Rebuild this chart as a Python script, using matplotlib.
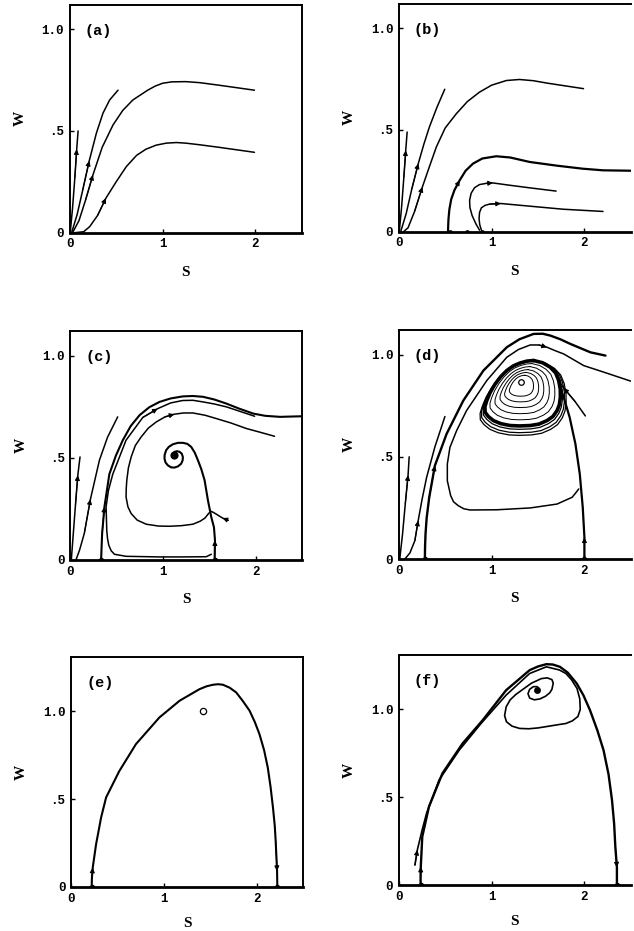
import numpy as np
import matplotlib
matplotlib.use('Agg')
import matplotlib.pyplot as plt

# ---- trajectories in the (S, W) plane, one list per curve ----

# (a)
a1_s = [0.005, 0.03, 0.055, 0.075, 0.09]
a1_w = [0.0, 0.12, 0.27, 0.41, 0.5]
a2_s = [0.02, 0.08, 0.14, 0.21, 0.287, 0.358, 0.43, 0.52]
a2_w = [0.0, 0.09, 0.21, 0.353, 0.489, 0.587, 0.652, 0.70]
a3_s = [0.03, 0.1, 0.17, 0.25, 0.35, 0.466, 0.57, 0.68, 0.84, 0.92, 1.0, 1.1, 1.25, 1.4, 1.6, 1.99]
a3_w = [0.0, 0.06, 0.16, 0.284, 0.42, 0.529, 0.60, 0.652, 0.70, 0.72, 0.734, 0.741, 0.742, 0.737, 0.725, 0.70]
a4_s = [0.05, 0.15, 0.215, 0.30, 0.39, 0.5, 0.61, 0.72, 0.82, 0.93, 1.04, 1.15, 1.25, 1.4, 1.6, 1.99]
a4_w = [0.0, 0.005, 0.03, 0.085, 0.17, 0.25, 0.325, 0.38, 0.41, 0.43, 0.44, 0.443, 0.44, 0.432, 0.42, 0.395]

# (b)
b1_s = [0.005, 0.03, 0.055, 0.075, 0.09]
b1_w = [0.0, 0.12, 0.27, 0.40, 0.49]
b2_s = [0.02, 0.08, 0.14, 0.21, 0.27, 0.33, 0.41, 0.495]
b2_w = [0.0, 0.09, 0.21, 0.335, 0.43, 0.515, 0.61, 0.70]
b3_s = [0.05, 0.1, 0.17, 0.254, 0.33, 0.405, 0.5, 0.62, 0.74, 0.87, 1.0, 1.16, 1.3, 1.45, 1.6, 1.99]
b3_w = [0.0, 0.02, 0.1, 0.22, 0.32, 0.417, 0.51, 0.58, 0.64, 0.686, 0.72, 0.743, 0.748, 0.742, 0.73, 0.703]
b4_s = [0.53, 0.535, 0.545, 0.565, 0.6, 0.656, 0.72, 0.8, 0.9, 1.05, 1.2, 1.41, 1.7, 1.98, 2.2, 2.5]
b4_w = [0.0, 0.06, 0.11, 0.16, 0.205, 0.253, 0.3, 0.335, 0.36, 0.371, 0.365, 0.343, 0.325, 0.31, 0.302, 0.30]
b5_s = [0.87, 0.83, 0.79, 0.766, 0.763, 0.78, 0.817, 0.87, 0.943, 1.014, 1.19, 1.41, 1.695]
b5_w = [0.008, 0.04, 0.08, 0.12, 0.155, 0.19, 0.217, 0.232, 0.238, 0.24, 0.229, 0.216, 0.20]
b6_s = [0.89, 0.872, 0.865, 0.87, 0.89, 0.93, 0.978, 1.10, 1.41, 1.77, 2.2]
b6_w = [0.008, 0.035, 0.065, 0.095, 0.118, 0.13, 0.136, 0.139, 0.126, 0.111, 0.10]
b_axis_pts = [0.55, 0.73, 0.9]

# (c)
c1_s = [0.01, 0.03, 0.055, 0.08, 0.104]
c1_w = [0.0, 0.12, 0.27, 0.414, 0.504]
c2_s = [0.06, 0.1, 0.15, 0.216, 0.313, 0.4, 0.51]
c2_w = [0.0, 0.05, 0.13, 0.297, 0.488, 0.6, 0.70]
c3_s = [0.331, 0.336, 0.342, 0.367, 0.42, 0.49, 0.565, 0.65, 0.745, 0.85, 0.96, 1.08, 1.21, 1.32,
        1.43, 1.55, 1.68, 1.82, 1.97, 2.1, 2.26, 2.5]
c3_w = [0.0, 0.06, 0.129, 0.26, 0.42, 0.51, 0.586, 0.655, 0.708, 0.747, 0.773, 0.79, 0.80, 0.802,
        0.798, 0.785, 0.765, 0.74, 0.716, 0.705, 0.70, 0.703]
c4_s = [1.518, 1.464, 1.2, 0.96, 0.6, 0.475, 0.44, 0.414, 0.40, 0.392, 0.385, 0.41, 0.457, 0.6,
        0.78, 0.94, 1.08, 1.21, 1.32, 1.43, 1.55, 1.68, 1.985]
c4_w = [0.028, 0.016, 0.015, 0.015, 0.018, 0.028, 0.045, 0.072, 0.105, 0.145, 0.26, 0.34, 0.42,
        0.586, 0.697, 0.74, 0.768, 0.78, 0.781, 0.773, 0.763, 0.749, 0.703]
c5_s = [1.70, 1.64, 1.58, 1.54, 1.515, 1.49, 1.45, 1.40, 1.32, 1.2, 1.07, 0.95, 0.817, 0.72, 0.655,
        0.62, 0.60, 0.602, 0.608, 0.625, 0.655, 0.7, 0.763, 0.84, 0.925, 1.02, 1.12, 1.22, 1.32,
        1.45, 1.57, 1.73, 1.896, 2.05, 2.2]
c5_w = [0.194, 0.205, 0.222, 0.233, 0.238, 0.228, 0.205, 0.19, 0.175, 0.168, 0.165, 0.166, 0.175,
        0.195, 0.227, 0.26, 0.308, 0.35, 0.39, 0.45, 0.504, 0.56, 0.602, 0.645, 0.675, 0.70, 0.713,
        0.719, 0.719, 0.708, 0.692, 0.67, 0.643, 0.624, 0.605]
c6_s = [1.554, 1.558, 1.547, 1.518, 1.482, 1.446, 1.41, 1.374, 1.34, 1.302, 1.26, 1.212, 1.16, 1.104,
        1.06, 1.032, 1.016, 1.014, 1.025, 1.05, 1.085, 1.122, 1.16, 1.194, 1.21, 1.212, 1.2, 1.176,
        1.15, 1.122, 1.108, 1.104, 1.11, 1.125, 1.135]
c6_w = [0.0, 0.096, 0.16, 0.21, 0.292, 0.39, 0.445, 0.488, 0.525, 0.553, 0.568, 0.573, 0.573, 0.566,
        0.553, 0.537, 0.515, 0.496, 0.477, 0.463, 0.453, 0.452, 0.458, 0.471, 0.488, 0.504, 0.52, 0.529,
        0.532, 0.529, 0.52, 0.512, 0.503, 0.498, 0.505]
c_focus = (1.12, 0.512)

# (d)
d1_s = [0.01, 0.04, 0.07, 0.1, 0.112]
d1_w = [0.0, 0.12, 0.27, 0.41, 0.50]
d2_s = [0.065, 0.12, 0.173, 0.209, 0.25, 0.30, 0.39, 0.497]
d2_w = [0.0, 0.03, 0.09, 0.188, 0.29, 0.40, 0.55, 0.697]
d3_s = [0.281, 0.283, 0.288, 0.3, 0.328, 0.389, 0.515, 0.695, 0.912, 1.164, 1.3, 1.452, 1.55, 1.632,
        1.74, 1.849, 2.065, 2.227]
d3_w = [0.0, 0.06, 0.122, 0.2, 0.302, 0.457, 0.612, 0.775, 0.922, 1.036, 1.075, 1.101, 1.102, 1.093,
        1.075, 1.052, 1.011, 0.995]
d4_s = [1.939, 1.9, 1.867, 1.705, 1.416, 1.056, 0.768, 0.7, 0.641, 0.59, 0.559, 0.523, 0.523, 0.551,
        0.623, 0.73, 0.948, 1.164, 1.29, 1.416, 1.51, 1.596, 1.68, 1.777, 1.993, 2.209, 2.5]
d4_w = [0.343, 0.32, 0.302, 0.269, 0.25, 0.241, 0.24, 0.246, 0.261, 0.28, 0.31, 0.383, 0.465, 0.546,
        0.628, 0.726, 0.873, 0.987, 1.025, 1.047, 1.047, 1.036, 1.02, 1.003, 0.946, 0.914, 0.87]
d5_s = [2.0, 2.0, 1.982, 1.95, 1.903, 1.841, 1.777, 1.733, 1.723]
d5_w = [0.0, 0.106, 0.253, 0.416, 0.563, 0.693, 0.791, 0.848, 0.873]
d6_s = [2.01, 1.9, 1.777, 1.72]
d6_w = [0.70, 0.77, 0.837, 0.87]
# limit cycle outline and the nested loops around the focus
cyc_s = [1.452, 1.55, 1.632, 1.69, 1.723, 1.74, 1.741, 1.73, 1.705, 1.66, 1.596, 1.51, 1.416, 1.3,
         1.2, 1.1, 1.02, 0.965, 0.93, 0.928, 0.948, 0.985, 1.038, 1.1, 1.164, 1.235, 1.308, 1.38, 1.452]
cyc_w = [0.971, 0.96, 0.938, 0.91, 0.873, 0.83, 0.791, 0.755, 0.726, 0.697, 0.677, 0.66, 0.653, 0.651,
         0.653, 0.662, 0.677, 0.697, 0.718, 0.745, 0.775, 0.815, 0.856, 0.893, 0.922, 0.945, 0.959,
         0.968, 0.971]
d_focus = (1.315, 0.865)
inner_loops = [0.86, 0.72, 0.58, 0.45, 0.32]
outer_loops = [1.05, 1.1, 1.14]
outer_anchor = (1.3, 0.98)

# (e)
e1_s = [0.223, 0.225, 0.234, 0.27, 0.324, 0.378, 0.52, 0.70, 0.953, 1.17, 1.385, 1.46, 1.53, 1.585,
        1.637, 1.71, 1.78, 1.85, 1.924, 1.98, 2.03, 2.08, 2.12, 2.15, 2.176, 2.195, 2.205, 2.22, 2.223]
e1_w = [0.0, 0.05, 0.11, 0.243, 0.395, 0.51, 0.66, 0.814, 0.966, 1.061, 1.127, 1.143, 1.152, 1.155,
        1.152, 1.135, 1.108, 1.06, 1.004, 0.94, 0.871, 0.78, 0.68, 0.57, 0.452, 0.35, 0.262, 0.091, 0.0]
e_point = (1.42, 1.004)

# (f)
f1_s = [0.235, 0.235, 0.237, 0.253, 0.325, 0.47, 0.687, 0.904, 1.157, 1.41, 1.5, 1.59, 1.66, 1.736,
        1.82, 1.917, 1.99, 2.06, 2.14, 2.206, 2.26, 2.297, 2.32, 2.333, 2.35, 2.35]
f1_w = [0.0, 0.05, 0.104, 0.275, 0.446, 0.636, 0.806, 0.939, 1.11, 1.224, 1.245, 1.258, 1.256, 1.243,
        1.21, 1.148, 1.08, 0.996, 0.88, 0.768, 0.63, 0.484, 0.35, 0.218, 0.1, 0.0]
f2_s = [0.174, 0.2, 0.25, 0.3, 0.434, 0.651, 0.886, 1.157, 1.41, 1.59, 1.73, 1.80, 1.86, 1.92, 1.95,
        1.955, 1.93, 1.87, 1.80, 1.736, 1.62, 1.502, 1.40, 1.302, 1.22, 1.16, 1.14, 1.157, 1.2, 1.26,
        1.338, 1.43, 1.537, 1.60, 1.65, 1.664, 1.65, 1.627, 1.58, 1.52, 1.46, 1.41, 1.392, 1.41, 1.45,
        1.49, 1.515, 1.51, 1.494]
f2_w = [0.114, 0.2, 0.31, 0.41, 0.598, 0.768, 0.92, 1.082, 1.205, 1.243, 1.225, 1.205, 1.17, 1.12, 1.06,
        1.0, 0.96, 0.935, 0.92, 0.915, 0.905, 0.895, 0.89, 0.892, 0.905, 0.93, 0.965, 1.015, 1.055, 1.085,
        1.115, 1.15, 1.176, 1.18, 1.17, 1.15, 1.115, 1.095, 1.075, 1.06, 1.055, 1.065, 1.09, 1.115, 1.13,
        1.13, 1.118, 1.105, 1.10]
f_focus = (1.494, 1.11)

x_ticks = [0, 1, 2]
x_tick_labels = ['0', '1', '2']
y_ticks = [0, 0.5, 1.0]
y_tick_labels = ['0', '.5', '1.0']


def curve(ax, s, w, lw=1.1):
    ax.plot(s, w, color='k', lw=lw, solid_capstyle='round', solid_joinstyle='round')


def arrow_at(ax, s, w, i):
    # arrowhead sitting on point i, pointing along the curve
    ax.annotate('', xy=(s[i], w[i]), xytext=(s[i - 1], w[i - 1]),
                arrowprops=dict(arrowstyle='-|>', color='k', lw=0.8,
                                mutation_scale=7, shrinkA=0, shrinkB=0))


def dots(ax, s, w, size=3.5, fill='k'):
    ax.plot(s, w, 'o', ms=size, mfc=fill, mec='k', mew=0.9, ls='none')


def setup(ax, label, ytop, right_col, xlab_y=-0.145):
    ax.set_xlim(0, 2.5)
    ax.set_ylim(0, ytop)
    ax.set_xticks(x_ticks)
    ax.set_xticklabels(x_tick_labels, family='Liberation Mono', fontweight='bold', fontsize=9)
    ax.set_yticks(y_ticks)
    ax.set_yticklabels(y_tick_labels, family='Liberation Mono', fontweight='bold', fontsize=9)
    ax.tick_params(direction='in', length=3, width=1, pad=4)
    for sp in ax.spines.values():
        sp.set_linewidth(1.4)
    ax.spines['bottom'].set_linewidth(2.0)
    if right_col:
        ax.spines['right'].set_visible(False)
    ax.set_xlabel('S', family='Liberation Serif', fontweight='bold', fontsize=11)
    ax.set_ylabel('W', family='Liberation Serif', fontweight='bold', fontsize=11)
    ax.xaxis.set_label_coords(0.5, xlab_y)
    ax.yaxis.set_label_coords(-0.185, 0.5)
    ax.text(0.065, 0.885, label, transform=ax.transAxes, family='Liberation Mono',
            fontweight='bold', fontsize=11, ha='left', va='center')


fig = plt.figure(figsize=(6.34, 9.31), dpi=100)
ax_a = fig.add_axes([0.110, 0.750, 0.366, 0.245])
ax_b = fig.add_axes([0.629, 0.751, 0.366, 0.245])
ax_c = fig.add_axes([0.111, 0.3985, 0.366, 0.246])
ax_d = fig.add_axes([0.629, 0.3995, 0.366, 0.246])
ax_e = fig.add_axes([0.112, 0.0473, 0.366, 0.247])
ax_f = fig.add_axes([0.629, 0.0494, 0.366, 0.247])

# (a)
setup(ax_a, '(a)', 1.12, False)
for s, w, i in [(a1_s, a1_w, 3), (a2_s, a2_w, 3), (a3_s, a3_w, 3), (a4_s, a4_w, 4)]:
    curve(ax_a, s, w)
    arrow_at(ax_a, s, w, i)

# (b)
setup(ax_b, '(b)', 1.12, True)
for s, w, i in [(b1_s, b1_w, 3), (b2_s, b2_w, 3), (b3_s, b3_w, 3), (b5_s, b5_w, 9), (b6_s, b6_w, 7)]:
    curve(ax_b, s, w)
    arrow_at(ax_b, s, w, i)
curve(ax_b, b4_s, b4_w, lw=1.6)
arrow_at(ax_b, b4_s, b4_w, 5)
dots(ax_b, b_axis_pts, [0] * len(b_axis_pts), size=2.5)

# (c)
setup(ax_c, '(c)', 1.12, False)
for s, w, i in [(c1_s, c1_w, 3), (c2_s, c2_w, 3), (c4_s, c4_w, 15)]:
    curve(ax_c, s, w)
    arrow_at(ax_c, s, w, i)
curve(ax_c, c3_s, c3_w, lw=1.5)
arrow_at(ax_c, c3_s, c3_w, 3)
curve(ax_c, c5_s, c5_w)
arrow_at(ax_c, c5_s, c5_w, 1)
arrow_at(ax_c, c5_s, c5_w, 26)
curve(ax_c, c6_s, c6_w, lw=1.5)
arrow_at(ax_c, c6_s, c6_w, 1)
dots(ax_c, [c_focus[0]], [c_focus[1]], size=5)
dots(ax_c, [c3_s[0], c6_s[0]], [0, 0], size=3)

# (d)
setup(ax_d, '(d)', 1.12, True)
for s, w, i in [(d1_s, d1_w, 3), (d2_s, d2_w, 3), (d4_s, d4_w, 21)]:
    curve(ax_d, s, w)
    arrow_at(ax_d, s, w, i)
curve(ax_d, d3_s, d3_w, lw=1.7)
arrow_at(ax_d, d3_s, d3_w, 5)
curve(ax_d, d5_s, d5_w, lw=1.6)
arrow_at(ax_d, d5_s, d5_w, 1)
curve(ax_d, d6_s, d6_w)
arrow_at(ax_d, d6_s, d6_w, 2)
cs = np.array(cyc_s)
cw = np.array(cyc_w)
curve(ax_d, cs, cw, lw=2.6)
for k in inner_loops:
    curve(ax_d, d_focus[0] + k * (cs - d_focus[0]), d_focus[1] + k * (cw - d_focus[1]), lw=0.7)
for k in outer_loops:
    curve(ax_d, outer_anchor[0] + k * (cs - outer_anchor[0]),
          outer_anchor[1] + k * (cw - outer_anchor[1]), lw=0.9)
dots(ax_d, [d_focus[0]], [d_focus[1]], size=4, fill='w')
dots(ax_d, [d3_s[0], d5_s[0]], [0, 0], size=3)

# (e)
setup(ax_e, '(e)', 1.31, False, xlab_y=-0.13)
curve(ax_e, e1_s, e1_w, lw=1.5)
arrow_at(ax_e, e1_s, e1_w, 2)
arrow_at(ax_e, e1_s, e1_w, 27)
dots(ax_e, [e_point[0]], [e_point[1]], size=4.5, fill='w')
dots(ax_e, [e1_s[0], e1_s[-1]], [0, 0], size=3)

# (f)
setup(ax_f, '(f)', 1.31, True, xlab_y=-0.13)
curve(ax_f, f1_s, f1_w, lw=1.7)
arrow_at(ax_f, f1_s, f1_w, 2)
arrow_at(ax_f, f1_s, f1_w, 24)
curve(ax_f, f2_s, f2_w, lw=1.2)
arrow_at(ax_f, f2_s, f2_w, 1)
dots(ax_f, [f_focus[0]], [f_focus[1]], size=4)
dots(ax_f, [f1_s[0], f1_s[-1]], [0, 0], size=3)

fig.savefig('out.png', dpi=100)
